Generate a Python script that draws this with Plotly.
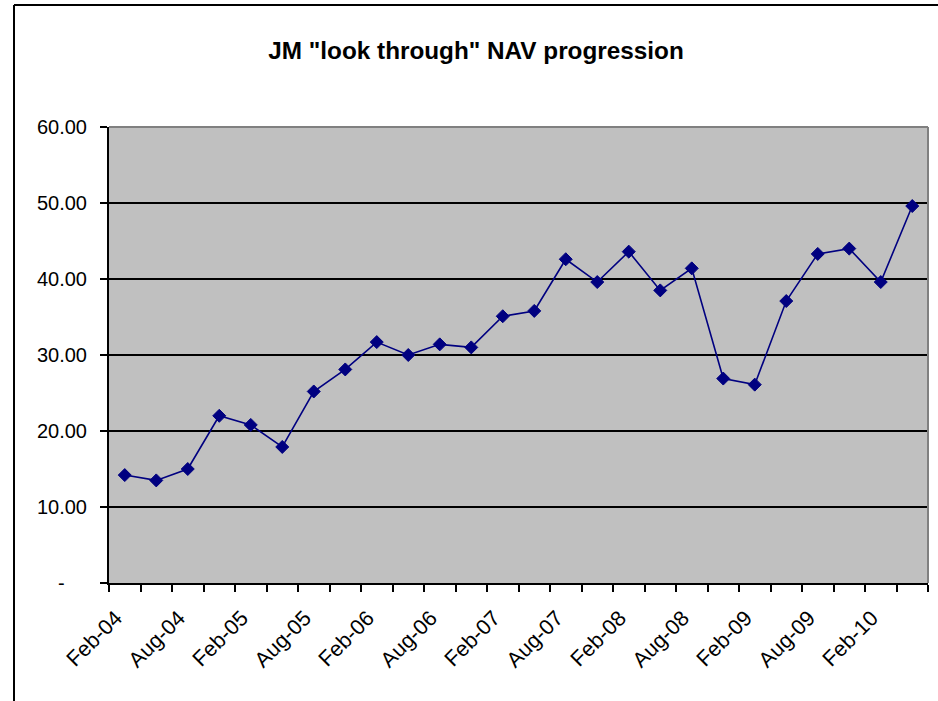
import plotly.graph_objects as go

categories = ["Feb-04", "May-04", "Aug-04", "Nov-04",
              "Feb-05", "May-05", "Aug-05", "Nov-05",
              "Feb-06", "May-06", "Aug-06", "Nov-06",
              "Feb-07", "May-07", "Aug-07", "Nov-07",
              "Feb-08", "May-08", "Aug-08", "Nov-08",
              "Feb-09", "May-09", "Aug-09", "Nov-09",
              "Feb-10", "May-10"]
nav_values = [14.2, 13.5, 15.0, 22.0, 20.8, 17.9, 25.2, 28.1, 31.7, 30.0,
              31.4, 31.0, 35.1, 35.8, 42.6, 39.6, 43.6, 38.5, 41.4, 26.9,
              26.1, 37.1, 43.3, 44.0, 39.6, 49.6]
y_ticks = [0, 10, 20, 30, 40, 50, 60]
y_tick_text = ["-\u00a0\u00a0\u00a0\u00a0", "10.00", "20.00", "30.00", "40.00", "50.00", "60.00"]
title_text = 'JM "look through" NAV progression'

x_idx = list(range(len(categories)))
label_idx = x_idx[::2]
label_text = [categories[i] for i in label_idx]

NAVY = "#000080"
FONT = "Liberation Sans, Arial, sans-serif"

fig = go.Figure()
fig.add_trace(go.Scatter(
    x=x_idx, y=nav_values, mode="lines+markers",
    line=dict(color=NAVY, width=1.6),
    marker=dict(symbol="diamond", size=10, color=NAVY, line=dict(color=NAVY, width=1)),
    showlegend=False, hoverinfo="skip",
))

fig.update_layout(
    width=938, height=701,
    margin=dict(l=109, r=10, t=127, b=118),
    paper_bgcolor="white",
    plot_bgcolor="#C0C0C0",
    font=dict(family=FONT, color="black", size=20),
    title=dict(text="<b>" + title_text + "</b>", x=0.5075, xref="container",
               xanchor="center", y=1 - 50 / 701, yref="container", yanchor="middle",
               font=dict(family=FONT, size=24.3, color="black")),
    xaxis=dict(
        range=[-0.5, len(categories) - 0.5],
        tickmode="array", tickvals=label_idx, ticktext=label_text,
        tickangle=-45, ticks="", showgrid=False, zeroline=False,
        showline=True, linecolor="black", linewidth=2,
        tickfont=dict(family=FONT, size=21.5, color="black"),
        ticklabelstandoff=12, ticklabelshift=-9,
        minor=dict(tickmode="linear", tick0=-0.5, dtick=1, ticks="outside",
                   ticklen=7, tickwidth=2, tickcolor="black", showgrid=False),
    ),
    yaxis=dict(
        range=[0, 60], tickmode="array", tickvals=y_ticks, ticktext=y_tick_text,
        ticks="outside", ticklen=7, tickwidth=2, tickcolor="black",
        showgrid=True, gridcolor="black", gridwidth=2, zeroline=False,
        showline=True, linecolor="black", linewidth=2,
        tickfont=dict(family=FONT, size=20, color="black"),
        ticklabelstandoff=9,
    ),
    shapes=[
        dict(type="line", xref="paper", yref="paper", x0=0, x1=1, y0=1, y1=1,
             line=dict(color="#808080", width=2), layer="above"),
        dict(type="line", xref="paper", yref="paper", x0=1, x1=1, y0=0, y1=1,
             line=dict(color="#808080", width=2), layer="above"),
        dict(type="line", xref="paper", yref="paper",
             x0=(14 - 109) / 819, x1=(14 - 109) / 819,
             y0=(583 - 5) / 456, y1=(583 - 710) / 456,
             line=dict(color="black", width=2)),
        dict(type="line", xref="paper", yref="paper",
             x0=(14 - 109) / 819, x1=(945 - 109) / 819,
             y0=(583 - 5) / 456, y1=(583 - 5) / 456,
             line=dict(color="black", width=2)),
    ],
)

fig.write_html("out.html")
